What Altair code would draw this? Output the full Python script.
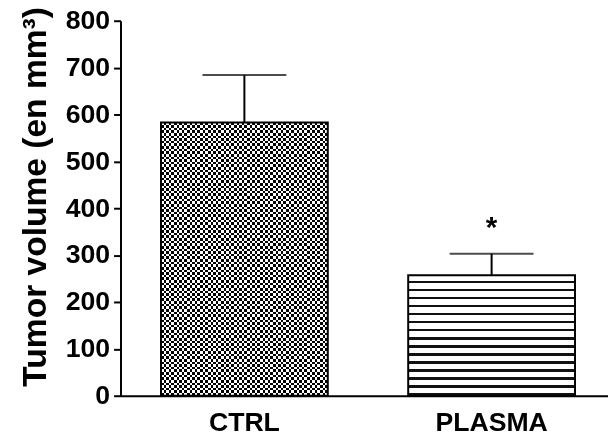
import altair as alt
import pandas as pd

groups = ["CTRL", "PLASMA"]
means = [583, 257]
sems = [101, 46]
stars = ["", "*"]

df = pd.DataFrame({"group": groups, "mean": means, "sem": sems, "star": stars})
df["top"] = df["mean"] + df["sem"]

FONT = "Liberation Sans"

def stripes(n, kind, dark_first=True, dark_frac=0.5):
    stops = []
    for i in range(n):
        a = i / n
        m = (i + (1 - dark_frac)) / n
        b = (i + 1) / n
        if kind == "lines":
            stops += [
                {"offset": a, "color": "white"},
                {"offset": m, "color": "white"},
                {"offset": m, "color": "#111111"},
                {"offset": b, "color": "#111111"},
            ]
        else:
            c = "black" if ((i % 2 == 0) == dark_first) else "white"
            stops += [{"offset": a, "color": c}, {"offset": b, "color": c}]
    return stops

n_cols = 64
n_rows = 104
n_lines = 15

vert = alt.Gradient(gradient="linear", x1=0, y1=0, x2=1, y2=0,
                    stops=stripes(n_cols, "check", True))
horz = alt.Gradient(gradient="linear", x1=0, y1=0, x2=0, y2=1,
                    stops=stripes(n_rows, "check", False))
lines = alt.Gradient(gradient="linear", x1=0, y1=0, x2=0, y2=1,
                     stops=stripes(n_lines, "lines", dark_frac=0.3))

x = alt.X("group:N", sort=groups, title=None,
          scale=alt.Scale(paddingInner=0.3253, paddingOuter=0.1486, align=0.551),
          axis=alt.Axis(labelAngle=0, labelFont=FONT, labelFontSize=27,
                        labelFontWeight="bold", labelColor="black", labelPadding=14,
                        ticks=False, domainColor="black", domainWidth=2))
y = alt.Y("mean:Q", title="Tumor volume (en mm³)",
          scale=alt.Scale(domain=[0, 800], nice=False),
          axis=alt.Axis(values=list(range(0, 801, 100)), grid=False,
                        labelFont=FONT, labelFontSize=27, labelFontWeight="bold",
                        labelColor="black", labelPadding=4,
                        tickColor="black", tickWidth=2, tickSize=7,
                        domainColor="black", domainWidth=2,
                        titleFont=FONT, titleFontSize=34, titleFontWeight="bold",
                        titleColor="black", titleY=178, titleX=-76,
                        titleBaseline="alphabetic"))

base = alt.Chart(df)

ctrl = df[df.group == "CTRL"]
plasma = df[df.group == "PLASMA"]

errs = base.mark_rule(color="black", strokeWidth=2).encode(x=x, y="mean:Q", y2="top:Q")
caps = base.mark_tick(color="black", thickness=2, size=85).encode(x=x, y="top:Q")

checkA = alt.Chart(ctrl).mark_bar(fill=vert, strokeWidth=0).encode(x=x, y=y)
checkB = alt.Chart(ctrl).mark_bar(fill=horz, strokeWidth=0, blend="difference").encode(x=x, y=y)
linesbar = alt.Chart(plasma).mark_bar(fill=lines, strokeWidth=0).encode(x=x, y=y)
outline = base.mark_bar(fillOpacity=0, stroke="black", strokeWidth=2).encode(x=x, y=y)

star = base.mark_text(font=FONT, fontSize=30, fontWeight="bold", color="black",
                      baseline="middle", dy=-26).encode(x=x, y="top:Q", text="star:N")

chart = alt.layer(errs, caps, checkA, checkB, linesbar, outline, star).properties(
    width=494, height=380,
    autosize=alt.AutoSizeParams(type="none"),
    padding={"left": 114, "top": 10, "right": 0, "bottom": 44},
).configure_view(stroke=None)

chart.save("out.html", embed_options={"renderer": "svg", "actions": False})
